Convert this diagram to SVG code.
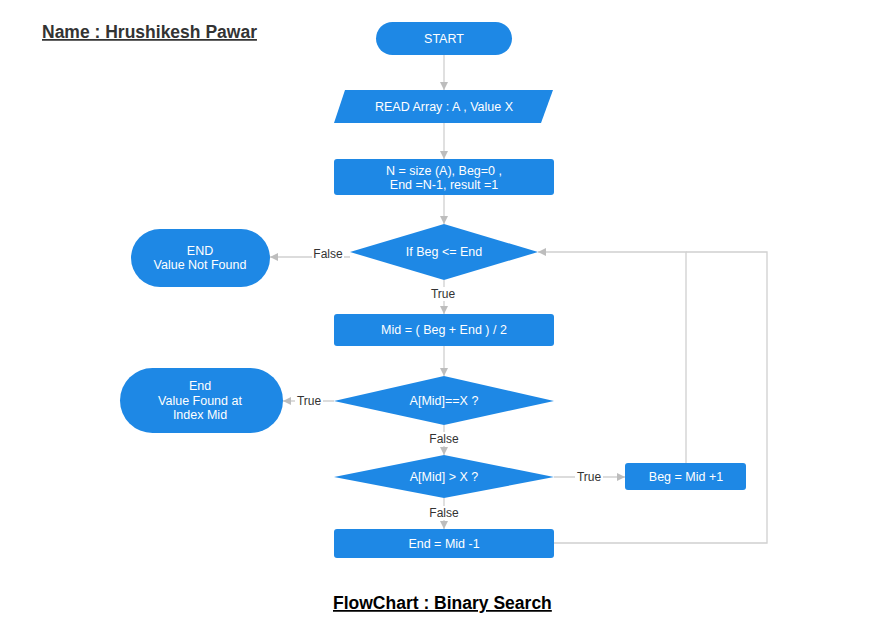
<svg xmlns="http://www.w3.org/2000/svg" width="870" height="640" viewBox="0 0 870 640">
<style>
.n{fill:#1e88e5;}
.t{font-family:"Liberation Sans",Arial,sans-serif;font-size:12.5px;fill:#fff;text-anchor:middle;}
.l{font-family:"Liberation Sans",Arial,sans-serif;font-size:12px;fill:#333;text-anchor:middle;}
.c{fill:none;stroke:#d0d0d0;stroke-width:1.3;}
.h{font-family:"Liberation Sans",Arial,sans-serif;font-size:17.5px;font-weight:bold;text-decoration:underline;}
</style>
<defs>
<marker id="a" viewBox="0 0 10 10" refX="10" refY="5" markerWidth="8" markerHeight="8" markerUnits="userSpaceOnUse" orient="auto">
<path d="M0,0 L10,5 L0,10 z" fill="#bdbdbd"/>
</marker>
</defs>
<rect width="870" height="640" fill="#fff"/>
<text class="h" x="42" y="38" fill="#333">Name : Hrushikesh Pawar</text>
<text class="h" x="333" y="609" fill="#000">FlowChart : Binary Search </text>
<g id="connectors">
<line class="c" x1="444" y1="55" x2="444" y2="90" marker-end="url(#a)"/>
<line class="c" x1="444" y1="123" x2="444" y2="159" marker-end="url(#a)"/>
<line class="c" x1="444" y1="195" x2="444" y2="224" marker-end="url(#a)"/>
<line class="c" x1="350" y1="257" x2="270" y2="257" marker-end="url(#a)"/>
<line class="c" x1="444" y1="280" x2="444" y2="314" marker-end="url(#a)"/>
<line class="c" x1="444" y1="346" x2="444" y2="376" marker-end="url(#a)"/>
<line class="c" x1="334" y1="401" x2="283" y2="401" marker-end="url(#a)"/>
<line class="c" x1="444" y1="425" x2="444" y2="455" marker-end="url(#a)"/>
<line class="c" x1="554" y1="477" x2="625" y2="477" marker-end="url(#a)"/>
<line class="c" x1="444" y1="498" x2="444" y2="529" marker-end="url(#a)"/>
<polyline class="c" points="686,463 686,252 538,252" marker-end="url(#a)"/>
<polyline class="c" points="554,543 767,543 767,252 686,252"/>
<rect x="312" y="247" width="32" height="14" fill="#fff"/>
<text class="l" x="328" y="258">False</text>
<rect x="428" y="287" width="32" height="14" fill="#fff"/>
<text class="l" x="443" y="298">True</text>
<rect x="295" y="394" width="28" height="14" fill="#fff"/>
<text class="l" x="309" y="405">True</text>
<rect x="428" y="432" width="32" height="14" fill="#fff"/>
<text class="l" x="444" y="443">False</text>
<rect x="575" y="470" width="28" height="14" fill="#fff"/>
<text class="l" x="589" y="481">True</text>
<rect x="428" y="506" width="32" height="14" fill="#fff"/>
<text class="l" x="444" y="517">False</text>
</g>
<g id="start"><rect class="n" x="376" y="22" width="136" height="33" rx="16.5"/><text class="t" x="444" y="43">START</text></g>
<g id="read"><polygon class="n" points="345,90 553,90 541,123 334,123"/><text class="t" x="444" y="111">READ Array : A , Value X</text></g>
<g id="init"><rect class="n" x="334" y="159" width="220" height="36" rx="3"/><text class="t" x="444" y="175">N = size (A), Beg=0 ,</text><text class="t" x="444" y="189">End =N-1, result =1</text></g>
<g id="cond1"><polygon class="n" points="444,224 538,252 444,280 350,252"/><text class="t" x="444" y="256">If Beg &lt;= End</text></g>
<g id="endNotFound"><rect class="n" x="131" y="229" width="139" height="58" rx="29"/><text class="t" x="200" y="255">END</text><text class="t" x="200" y="269">Value Not Found</text></g>
<g id="mid"><rect class="n" x="334" y="314" width="220" height="32" rx="3"/><text class="t" x="444" y="334">Mid = ( Beg + End ) / 2</text></g>
<g id="cond2"><polygon class="n" points="444,376 554,401 444,425 334,401"/><text class="t" x="444" y="405">A[Mid]==X ?</text></g>
<g id="endFound"><rect class="n" x="120" y="368" width="163" height="65" rx="32.5"/><text class="t" x="200" y="390">End</text><text class="t" x="200" y="405">Value Found at</text><text class="t" x="200" y="419">Index Mid</text></g>
<g id="cond3"><polygon class="n" points="444,455 554,477 444,498 334,477"/><text class="t" x="444" y="481">A[Mid] &gt; X ?</text></g>
<g id="begInc"><rect class="n" x="625" y="463" width="121" height="27" rx="3"/><text class="t" x="686" y="481">Beg = Mid +1</text></g>
<g id="endDec"><rect class="n" x="334" y="529" width="220" height="29" rx="3"/><text class="t" x="444" y="548">End = Mid -1</text></g>
</svg>
